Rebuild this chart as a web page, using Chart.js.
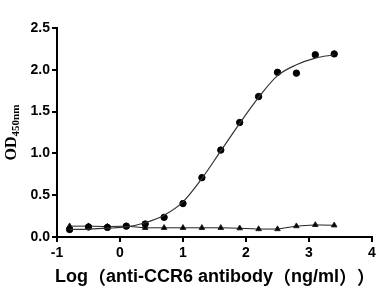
<!doctype html>
<html lang="en">
  <head>
    <meta charset="UTF-8" />
    <title>OD450 binding curve</title>
    <script src="https://cdn.jsdelivr.net/npm/chart.js"></script>
    <style>
      body { margin: 0; background: #fff; }
      #wrap { width: 390px; height: 300px; }
    </style>
  </head>
  <body>
    <div id="wrap">
      <canvas id="curveChart" width="390" height="300"></canvas>
    </div>

    <script>
      // log concentration (x) used for both series
      const logConc = [-0.8, -0.5, -0.2, 0.1, 0.4, 0.7, 1.0, 1.3, 1.6, 1.9, 2.2, 2.5, 2.8, 3.1, 3.4];
      // anti-CCR6 antibody (circles)
      const odCircle = [0.09, 0.12, 0.115, 0.13, 0.155, 0.235, 0.40, 0.71, 1.04, 1.37, 1.68, 1.97, 1.96, 2.18, 2.19];
      // fitted curve
      const fitCurve = [0.09, 0.095, 0.105, 0.12, 0.17, 0.26, 0.42, 0.70, 1.03, 1.36, 1.67, 1.93, 2.06, 2.14, 2.18];
      // control (triangles)
      const odTriangle = [0.13, 0.13, 0.125, 0.13, 0.11, 0.11, 0.11, 0.11, 0.11, 0.105, 0.095, 0.095, 0.13, 0.145, 0.14];

      const yTicks = [0, 0.5, 1.0, 1.5, 2.0, 2.5];
      const xTicks = [-1, 0, 1, 2, 3, 4];

      const xTitle = "Log（anti-CCR6 antibody（ng/ml））";

      function pts(ys) {
        return logConc.map((x, i) => ({ x: x, y: ys[i] }));
      }

      const titles = {
        id: "titles",
        afterDraw(chart) {
          const ctx = chart.ctx;
          const area = chart.chartArea;
          ctx.save();
          ctx.fillStyle = "#000";
          ctx.textBaseline = "middle";
          ctx.textAlign = "left";
          // latin runs in Arial, full-width brackets in the CJK font
          const latin = "bold 18px 'Liberation Sans', Arial, sans-serif";
          const cjk = "bold 18px 'Noto Sans CJK SC', sans-serif";
          let x = 55;
          xTitle.split(/([（）])/).forEach((part) => {
            if (!part) return;
            ctx.font = part === "（" || part === "）" ? cjk : latin;
            ctx.fillText(part, x, 277);
            x += ctx.measureText(part).width;
          });

          // y title OD with subscript 450nm
          ctx.translate(16, (area.top + area.bottom) / 2);
          ctx.rotate(-Math.PI / 2);
          ctx.textBaseline = "alphabetic";
          const big = "bold 16px 'Liberation Serif', 'Times New Roman', serif";
          const small = "bold 11px 'Liberation Serif', 'Times New Roman', serif";
          ctx.font = big;
          const w1 = ctx.measureText("OD").width;
          ctx.font = small;
          const w2 = ctx.measureText("450nm").width;
          const start = -(w1 + w2) / 2;
          ctx.font = big;
          ctx.fillText("OD", start, 0);
          ctx.font = small;
          ctx.fillText("450nm", start + w1, 3);
          ctx.restore();
        },
      };

      new Chart(document.getElementById("curveChart"), {
        type: "scatter",
        data: {
          datasets: [
            {
              label: "fit",
              data: pts(fitCurve),
              showLine: true,
              borderColor: "#333",
              borderWidth: 1.2,
              pointRadius: 0,
              cubicInterpolationMode: "monotone",
            },
            {
              label: "anti-CCR6",
              data: pts(odCircle),
              pointStyle: "circle",
              pointRadius: 3.2,
              backgroundColor: "#000",
              borderColor: "#000",
              showLine: false,
            },
            {
              label: "control",
              data: pts(odTriangle),
              showLine: true,
              tension: 0,
              pointStyle: "triangle",
              pointRadius: 3.2,
              backgroundColor: "#000",
              borderColor: "#222",
              borderWidth: 1,
            },
          ],
        },
        options: {
          responsive: false,
          animation: false,
          devicePixelRatio: 1,
          layout: { padding: { left: 0, right: 18, top: 28, bottom: 0 } },
          plugins: {
            legend: { display: false },
            tooltip: { enabled: false },
          },
          scales: {
            x: {
              type: "linear",
              min: -1,
              max: 4,
              afterBuildTicks: (s) => { s.ticks = xTicks.map((v) => ({ value: v })); },
              afterFit: (s) => { s.height = 63; },
              grid: { drawOnChartArea: false, drawTicks: true, tickLength: 5, color: "#000", lineWidth: 2 },
              border: { color: "#000", width: 2 },
              ticks: {
                color: "#000",
                padding: 3,
                maxRotation: 0,
                font: { family: "'Liberation Sans', Arial, sans-serif", size: 14, weight: "bold" },
              },
            },
            y: {
              min: 0,
              max: 2.5,
              afterBuildTicks: (s) => { s.ticks = yTicks.map((v) => ({ value: v })); },
              afterFit: (s) => { s.width = 57; },
              grid: { drawOnChartArea: false, drawTicks: true, tickLength: 5, color: "#000", lineWidth: 2 },
              border: { color: "#000", width: 2 },
              ticks: {
                color: "#000",
                padding: 2,
                callback: (v) => v.toFixed(1),
                font: { family: "'Liberation Sans', Arial, sans-serif", size: 14, weight: "bold" },
              },
            },
          },
        },
        plugins: [titles],
      });
    </script>
  </body>
</html>
